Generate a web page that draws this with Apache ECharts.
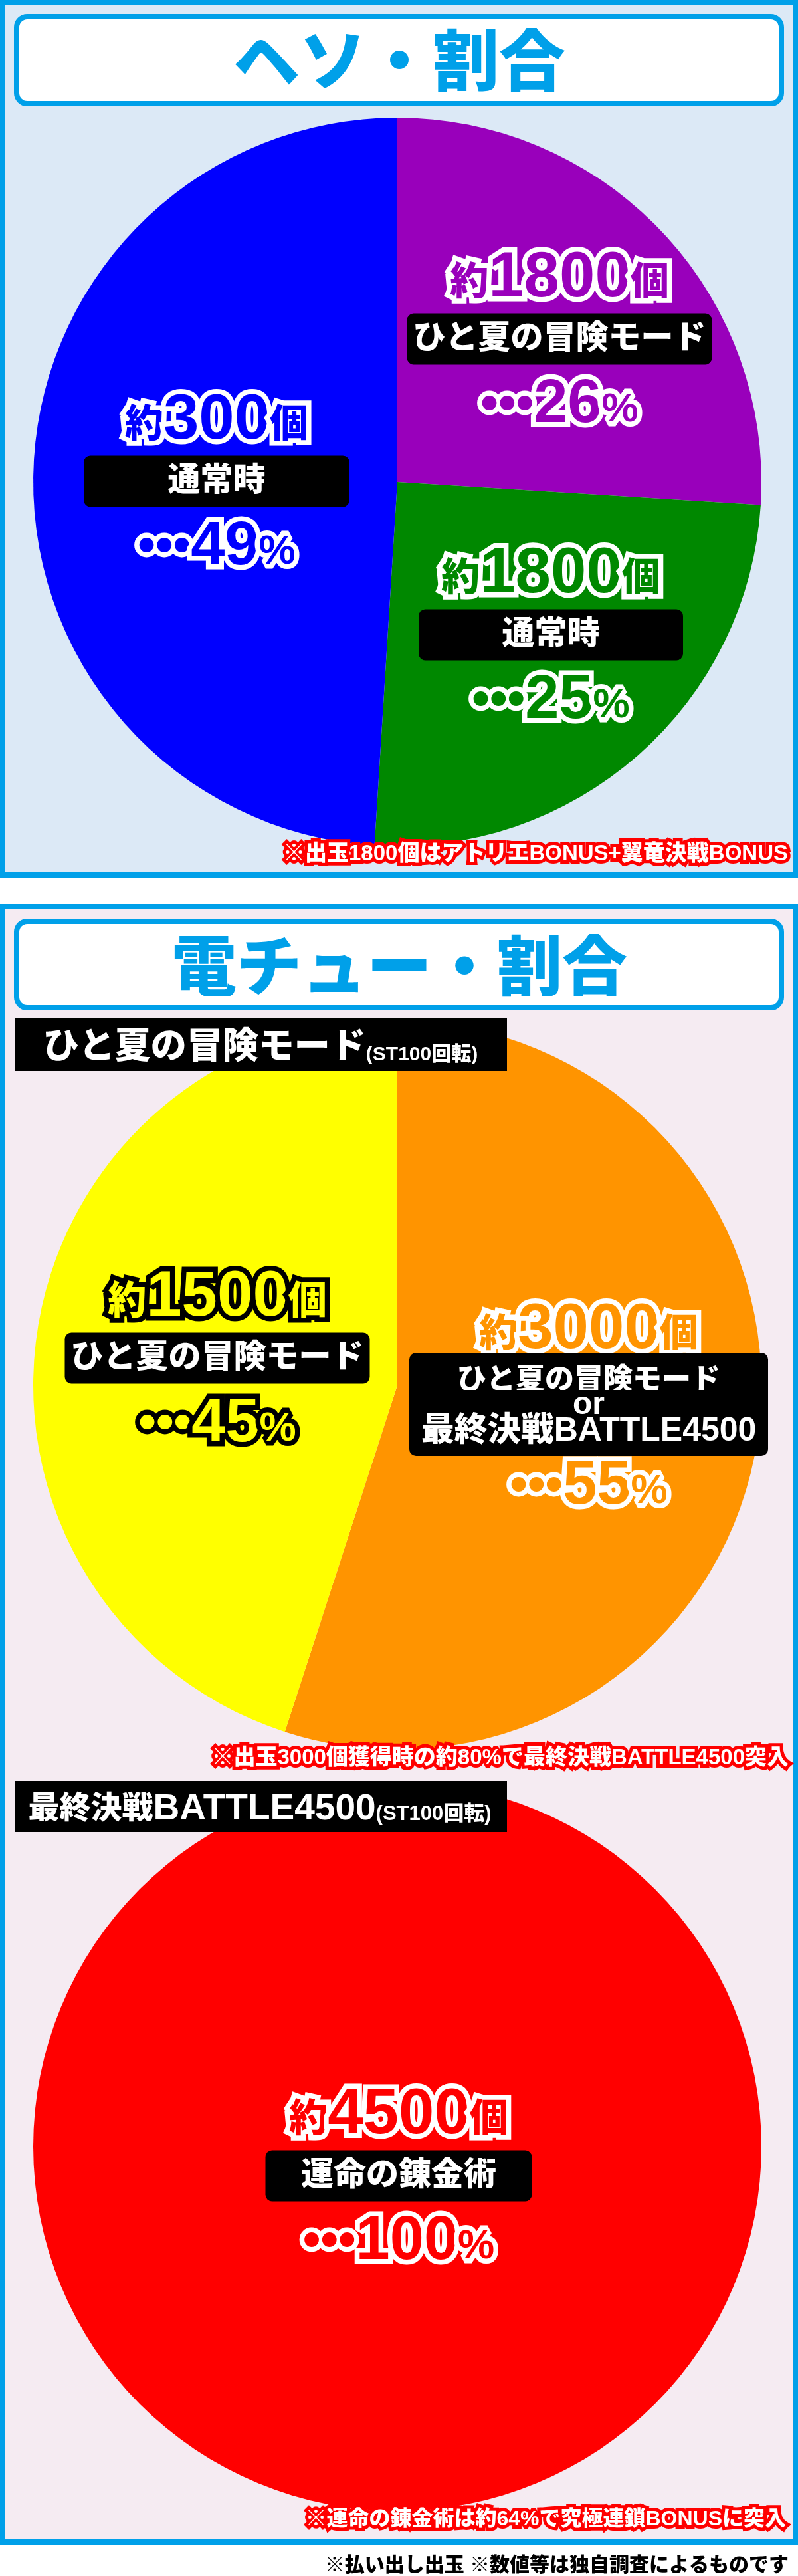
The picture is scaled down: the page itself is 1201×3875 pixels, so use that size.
<!DOCTYPE html>
<html><head><meta charset="utf-8">
<script src="https://cdn.jsdelivr.net/npm/echarts@6/dist/echarts.min.js"></script>
<style>html,body{margin:0;padding:0;background:#fff}#c{width:1201px;height:3875px}</style>
</head><body><div id="c"></div>
<script>
// ---------- data ----------
const hesoModes = ['ひと夏の冒険モード', '通常時', '通常時'];
const hesoPayouts = [1800, 1800, 300];
const hesoRatios = [26, 25, 49];
const denchuModes = ['ひと夏の冒険モード\nor\n最終決戦BATTLE4500', 'ひと夏の冒険モード'];
const denchuPayouts = [3000, 1500];
const denchuRatios = [55, 45];
const battleModes = ['運命の錬金術'];
const battlePayouts = [4500];
const battleRatios = [100];
const titles = ['ヘソ・割合', '電チュー・割合'];
const banner1 = ['ひと夏の冒険モード', '(ST100回転)'];
const banner2 = ['最終決戦', 'BATTLE4500', '(ST100回転)'];
const notes = ['※出玉1800個はアトリエBONUS+翼竜決戦BONUS', '※出玉3000個獲得時の約80%で最終決戦BATTLE4500突入', '※運命の錬金術は約64%で究極連鎖BONUSに突入'];
const footer = '※払い出し出玉 ※数値等は独自調査によるものです';

// ---------- styles / layout ----------
const hesoColors = ['#9900bb', '#008800', '#0000ff'];
const hesoStrokes = ['#fff', '#fff', '#fff'];
const denchuColors = ['#ff9400', '#ffff00'];
const denchuStrokes = ['#fff', '#000'];
const battleColors = ['#ff0000'];
const battleStrokes = ['#fff'];
const hesoLabelLayout = [{x: 842, y: 420, box: 459}, {x: 829, y: 865, box: 398}, {x: 326, y: 634, box: 400}];
const denchuLabelLayout = [{x: 886, y: 2002, box: 540, countH: 86, pctH: 108}, {x: 327, y: 1953, box: 459}];
const battleLabelLayout = [{x: 600, y: 3183, box: 401}];
const BLUE = '#00a0e9';
const F = "'Liberation Sans','Noto Sans CJK JP',sans-serif";
const J = "'Noto Sans CJK JP',sans-serif";
const R = 548;

function buildText(payout, mode, ratio) {
  const lines = mode.split('\n');
  const boxPart = lines.length === 1 ? '{box|' + mode + '}' : lines.map((l, k) => '{l' + k + '|' + l + '}').join('\n');
  return '{pre|約}{num|' + payout + '}{pre|個}\n' + boxPart + '\n{dot|•••}{pnum|' + ratio + '}{pct|%}';
}
function buildRich(fill, stroke, L) {
  const cH = L.countH || 103, pH = L.pctH || 123;
  const t = {color: fill, textBorderColor: stroke, textBorderWidth: 15, fontWeight: 900, fontFamily: F, align: 'center', verticalAlign: 'middle'};
  const b = {color: '#fff', fontWeight: 900, fontFamily: F, backgroundColor: '#000', textBorderWidth: 0, align: 'center', verticalAlign: 'middle', width: L.box};
  return {
    pre: Object.assign({}, t, {fontSize: 58, lineHeight: cH - 14, padding: [14, 0, 0, 0]}),
    num: Object.assign({}, t, {fontSize: 96, lineHeight: cH}),
    box: Object.assign({}, b, {fontSize: 49, height: 77, lineHeight: 77, borderRadius: 10}),
    l0: Object.assign({}, b, {fontSize: 44, height: 46, lineHeight: 46, padding: [20, 0, 0, 0], borderRadius: [10, 10, 0, 0]}),
    l1: Object.assign({}, b, {fontSize: 48, height: 46, lineHeight: 46, borderRadius: 0}),
    l2: Object.assign({}, b, {fontSize: 50, height: 46, lineHeight: 46, padding: [0, 0, 14, 0], borderRadius: [0, 0, 10, 10]}),
    dot: Object.assign({}, t, {fontSize: 76, lineHeight: pH}),
    pnum: Object.assign({}, t, {fontSize: 92, lineHeight: pH}),
    pct: Object.assign({}, t, {fontSize: 62, lineHeight: pH - 14, padding: [14, 0, 0, 0]})
  };
}
function makeSeries(modes, payouts, ratios, colors, strokes, layouts, center) {
  return {
    type: 'pie', center: center, radius: R, startAngle: 90, clockwise: true, silent: true,
    avoidLabelOverlap: false, z: 2,
    itemStyle: {borderWidth: 0},
    label: {show: true, position: 'inside', textBorderWidth: 0},
    labelLine: {show: false},
    emphasis: {disabled: true},
    labelLayout: function (p) {
      const L = layouts[p.dataIndex];
      return {x: L.x, y: L.y - (L.countH || 103) / 2, align: 'center', verticalAlign: 'top'};
    },
    data: ratios.map((v, i) => ({
      value: v, name: modes[i],
      itemStyle: {color: colors[i]},
      label: {formatter: () => buildText(payouts[i], modes[i], v), rich: buildRich(colors[i], strokes[i], layouts[i])}
    }))
  };
}
function note(text, x, y, size) {
  const s = {text: text, fontSize: size, fontWeight: 900, fontFamily: F, align: 'right', verticalAlign: 'middle'};
  return [
    {type: 'text', z: 22, x: x, y: y, style: Object.assign({}, s, {fill: '#ff0000', stroke: '#ff0000', lineWidth: 10})},
    {type: 'text', z: 23, x: x, y: y, style: Object.assign({}, s, {fill: '#fff'})}
  ];
}

const graphic = [
  {type: 'rect', z: 0, shape: {x: 4, y: 4, width: 1193, height: 1312}, style: {fill: '#dce9f6', stroke: BLUE, lineWidth: 8}},
  {type: 'rect', z: 0, shape: {x: 4, y: 1364, width: 1193, height: 2460}, style: {fill: '#f5ebf2', stroke: BLUE, lineWidth: 8}},
  {type: 'rect', z: 1, shape: {x: 25, y: 25, width: 1151, height: 131, r: 16}, style: {fill: '#fff', stroke: BLUE, lineWidth: 8}},
  {type: 'rect', z: 1, shape: {x: 25, y: 1386, width: 1151, height: 130, r: 16}, style: {fill: '#fff', stroke: BLUE, lineWidth: 8}},
  {type: 'text', z: 1, x: 601, y: 90, style: {text: titles[0], fill: BLUE, fontSize: 100, fontWeight: 900, fontFamily: J, align: 'center', verticalAlign: 'middle'}},
  {type: 'text', z: 1, x: 601, y: 1452, style: {text: titles[1], fill: BLUE, fontSize: 98, fontWeight: 900, fontFamily: J, align: 'center', verticalAlign: 'middle'}},
  {type: 'rect', z: 20, shape: {x: 23, y: 1532, width: 740, height: 79}, style: {fill: '#000'}},
  {type: 'text', z: 21, x: 392, y: 1577, style: {
    text: '{m|' + banner1[0] + '}{s|' + banner1[1] + '}', align: 'center', verticalAlign: 'middle',
    rich: {
      m: {fill: '#fff', fontSize: 54, fontWeight: 900, fontFamily: F, lineHeight: 60, verticalAlign: 'middle'},
      s: {fill: '#fff', fontSize: 30, fontWeight: 900, fontFamily: F, lineHeight: 41, padding: [19, 0, 0, 0], verticalAlign: 'middle'}
    }}},
  {type: 'rect', z: 20, shape: {x: 23, y: 2679, width: 740, height: 77}, style: {fill: '#000'}},
  {type: 'text', z: 21, x: 391, y: 2722, style: {
    text: '{m|' + banner2[0] + '}{l|' + banner2[1] + '}{s|' + banner2[2] + '}', align: 'center', verticalAlign: 'middle',
    rich: {
      m: {fill: '#fff', fontSize: 47, fontWeight: 900, fontFamily: F, lineHeight: 60, verticalAlign: 'middle'},
      l: {fill: '#fff', fontSize: 55, fontWeight: 900, fontFamily: F, lineHeight: 60, verticalAlign: 'middle'},
      s: {fill: '#fff', fontSize: 31, fontWeight: 900, fontFamily: F, lineHeight: 45, padding: [15, 0, 0, 0], verticalAlign: 'middle'}
    }}}
].concat(
  note(notes[0], 1186, 1285, 33),
  note(notes[1], 1187, 2645, 33),
  note(notes[2], 1183, 3790, 32),
  [{type: 'text', z: 22, x: 1187, y: 3860, style: {text: footer, fill: '#000', fontSize: 30, fontWeight: 900, fontFamily: F, align: 'right', verticalAlign: 'middle'}}]
);

const chart = echarts.init(document.getElementById('c'), null, {renderer: 'canvas'});
chart.setOption({
  animation: false,
  backgroundColor: '#fff',
  graphic: graphic,
  series: [
    makeSeries(hesoModes, hesoPayouts, hesoRatios, hesoColors, hesoStrokes, hesoLabelLayout, [598, 725]),
    makeSeries(denchuModes, denchuPayouts, denchuRatios, denchuColors, denchuStrokes, denchuLabelLayout, [598, 2084]),
    makeSeries(battleModes, battlePayouts, battleRatios, battleColors, battleStrokes, battleLabelLayout, [598, 3229])
  ]
});
</script></body></html>
